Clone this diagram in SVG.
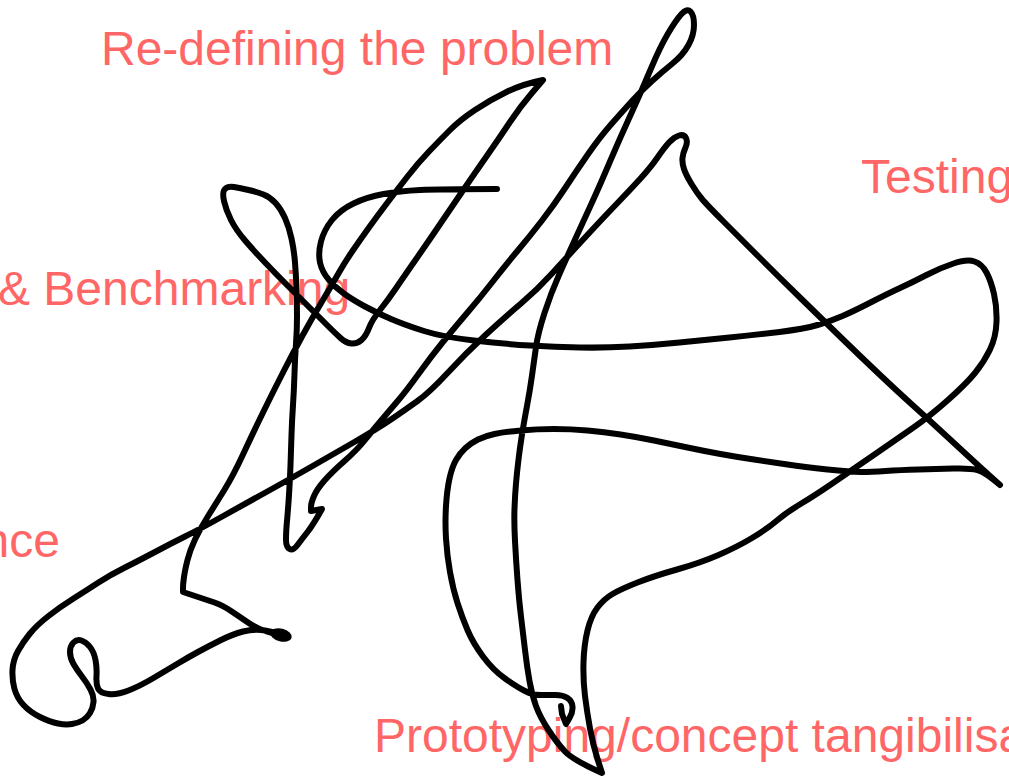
<svg xmlns="http://www.w3.org/2000/svg" width="1009" height="779" viewBox="0 0 1009 779">
<style>
.lbl{font-family:"Liberation Sans",Arial,sans-serif;font-size:48px;fill:#ff6666}
.ink{fill:none;stroke:#000;stroke-width:6;stroke-linecap:round;stroke-linejoin:round}
</style>
<rect width="1009" height="779" fill="#fff"/>
<g id="labels">
<text class="lbl" x="101" y="65">Re-defining the problem</text>
<text class="lbl" x="861" y="193">Testing</text>
<text class="lbl" x="-2" y="305">&amp; Benchmarking</text>
<text class="lbl" x="60" y="557" text-anchor="end">nce</text>
<text class="lbl" x="374" y="752">Prototyping/concept tangibilisa</text>
</g>
<g id="scribble">
<path class="ink" d="M 497 189 Q 440 189 420 190 Q 400 191 383.5 194 Q 367 197 353.5 203.5 Q 340 210 332 220 Q 324 230 321 241.5 Q 318 253 320 262.5 Q 322 272 329 280 Q 336 288 344.5 294 Q 353 300 365 306.5 Q 377 313 391 319 Q 405 325 424 331 Q 443 337 474 340.5 Q 505 344 530 345.5 Q 555 347 579.5 347.5 Q 604 348 629.5 346.5 Q 655 345 679.5 342.5 Q 704 340 729.5 337.5 Q 755 335 779.5 332 Q 804 329 817.5 325 Q 831 321 842.5 316 Q 854 311 870.5 302.5 Q 887 294 900 288 Q 913 282 926.5 275 Q 940 268 953.5 263.5 Q 967 259 974.5 261.5 Q 982 264 986.5 272.5 Q 991 281 994 294 Q 997 307 996.5 322 Q 996 337 990 349.5 Q 984 362 975 373 Q 966 384 948 400 Q 930 416 913.5 427.5 Q 897 439 874.5 454.5 Q 852 470 833 483 Q 814 496 800.5 504 Q 787 512 777 520.5 Q 767 529 752 538 Q 737 547 718.5 555 Q 700 563 677 569.5 Q 654 576 637.5 582.5 Q 621 589 612.5 594 Q 604 599 597.5 607.5 Q 591 616 587.5 630.5 Q 584 645 583.5 662.5 Q 583 680 585 696 Q 587 712 590 728.5 Q 593 745 597.5 759 L 602 773
Q 573 760 565 751.5 Q 557 743 548.5 730 Q 540 717 536 706 Q 532 695 529.5 681 Q 527 667 525 650 Q 523 633 521 616.5 Q 519 600 517.5 580 Q 516 560 515 541 Q 514 522 514.5 508.5 Q 515 495 516 483.5 Q 517 472 518.5 459.5 Q 520 447 522 434.5 Q 524 422 527 406 Q 530 390 532 375.5 Q 534 361 536 347 Q 538 333 544.5 313 Q 551 293 559 275 Q 567 257 575.5 238.5 Q 584 220 592 202.5 Q 600 185 610 161.5 Q 620 138 631 114 Q 642 90 651 68.5 Q 660 47 668 33.5 Q 676 20 681.5 14 Q 687 8 690.5 11.5 Q 694 15 694 25 Q 694 35 688.5 45 Q 683 55 672.5 63.5 Q 662 72 652 81 Q 642 90 632 101 Q 622 112 611 124.5 Q 600 137 588.5 153.5 Q 577 170 565.5 187.5 Q 554 205 542 220.5 Q 530 236 517 251.5 Q 504 267 492 282.5 Q 480 298 467.5 312.5 Q 455 327 442.5 342.5 Q 430 358 418.5 374 Q 407 390 398.5 400 Q 390 410 381.5 420 Q 373 430 365 440 Q 357 450 344.5 461 Q 332 472 324.5 480.5 Q 317 489 314 496 Q 311 503 311 507 L 311 511 L 322 509
Q 313 525 307.5 532 Q 302 539 297.5 545 Q 293 551 289.5 549 Q 286 547 286 539.5 Q 286 532 287 521 Q 288 510 289 495 Q 290 480 290.5 465 Q 291 450 291.5 435 Q 292 420 293 405 Q 294 390 294.5 373.5 Q 295 357 296 343.5 Q 297 330 297 316.5 Q 297 303 296.5 289 Q 296 275 295 262.5 Q 294 250 291.5 238.5 Q 289 227 285 218 Q 281 209 275.5 203 Q 270 197 263.5 194.5 Q 257 192 248.5 190 Q 240 188 234 187 Q 228 186 225 189 Q 222 192 224 201 Q 226 210 231 220 Q 236 230 245.5 241 Q 255 252 265.5 263 Q 276 274 288 286 Q 300 298 310 308 Q 320 318 327.5 325.5 Q 335 333 340.5 338 Q 346 343 351.5 343.5 Q 357 344 361.5 340 Q 366 336 369 328 Q 372 320 380 310 Q 388 300 396.5 287.5 Q 405 275 416.5 258.5 Q 428 242 440.5 223.5 Q 453 205 465 187.5 Q 477 170 488.5 153.5 Q 500 137 510 122 Q 520 107 531.5 93.5 L 543 80
Q 523 84 506.5 92 Q 490 100 475 110 Q 460 120 450 130 Q 440 140 429 151.5 Q 418 163 407.5 176.5 Q 397 190 387.5 202.5 Q 378 215 369 227.5 Q 360 240 352.5 251 Q 345 262 339 272.5 Q 333 283 322 301.5 Q 311 320 302 336.5 Q 293 353 283.5 371.5 Q 274 390 263.5 411.5 Q 253 433 243 454.5 Q 233 476 224 490.5 Q 215 505 207.5 517 Q 200 529 195 539.5 Q 190 550 187.5 560 Q 185 570 184 577 Q 183 584 183 588 L 183 592
Q 207 600 214.5 602.5 Q 222 605 231 611 Q 240 617 248 622.5 Q 256 628 265 631 Q 274 634 280.5 635 L 287 636
Q 270 631 261.5 630 Q 253 629 243 631.5 Q 233 634 220 640.5 Q 207 647 197 652.5 Q 187 658 177 664 Q 167 670 153.5 678 Q 140 686 128.5 690.5 Q 117 695 108.5 694 Q 100 693 98 688.5 Q 96 684 96.5 676 Q 97 668 95.5 660 Q 94 652 90 647 Q 86 642 81.5 640.5 Q 77 639 73.5 642.5 Q 70 646 70 652 Q 70 658 73.5 664 Q 77 670 82 676.5 Q 87 683 90.5 689.5 Q 94 696 93.5 702 Q 93 708 90 713 Q 87 718 82.5 720.5 Q 78 723 72 724 Q 66 725 58 723.5 Q 50 722 40 717 Q 30 712 23.5 705 Q 17 698 14.5 689 Q 12 680 12.5 670 Q 13 660 18 651 Q 23 642 30 633.5 Q 37 625 48.5 616 Q 60 607 73.5 598.5 Q 87 590 98.5 582.5 Q 110 575 125 567.5 Q 140 560 155 552 Q 170 544 185 536.5 Q 200 529 225 515 Q 250 501 270 490 Q 290 479 310 467.5 Q 330 456 353.5 442.5 Q 377 429 391 419.5 Q 405 410 417.5 401 Q 430 392 448 372.5 Q 466 353 485.5 335 Q 505 317 521 303.5 Q 537 290 552 273.5 Q 567 257 585.5 237 Q 604 217 617 203.5 Q 630 190 640.5 178.5 Q 651 167 657.5 157.5 Q 664 148 669 142.5 Q 674 137 679 135.5 Q 684 134 686 138 Q 688 142 685.5 147.5 Q 683 153 682.5 158 Q 682 163 684 169 Q 686 175 691.5 184 Q 697 193 702 199 Q 707 205 723.5 221.5 Q 740 238 760 258 Q 780 278 802 299.5 Q 824 321 842 338.5 Q 860 356 878.5 373.5 Q 897 391 912.5 405 Q 928 419 941.5 431.5 Q 955 444 967.5 455.5 Q 980 467 990 476 L 1000 485
Q 985 472 977.5 470 Q 970 468 953.5 468.5 Q 937 469 918.5 469.5 Q 900 470 885.5 471 Q 871 472 861 472 Q 851 472 827.5 469.5 Q 804 467 787.5 464.5 Q 771 462 754 459.5 Q 737 457 720.5 454 Q 704 451 687.5 447.5 Q 671 444 654 440.5 Q 637 437 620.5 434.5 Q 604 432 587.5 430.5 Q 571 429 554 429 Q 537 429 520.5 430.5 Q 504 432 494.5 434 Q 485 436 478 439.5 Q 471 443 465.5 448 Q 460 453 456 460 Q 452 467 449.5 478.5 Q 447 490 446 506 Q 445 522 446 538.5 Q 447 555 450 572 Q 453 589 457.5 603 Q 462 617 467.5 630 Q 473 643 483 656.5 Q 493 670 505 678.5 Q 517 687 525 691 Q 533 695 540.5 695 Q 548 695 555.5 695 Q 563 695 567.5 698 Q 572 701 572.5 706.5 Q 573 712 569.5 718 L 566 724 L 562 714 L 561 706"/>
<ellipse cx="281" cy="635" rx="11" ry="6.5" transform="rotate(14 281 635)" fill="#000"/>
</g>
</svg>
